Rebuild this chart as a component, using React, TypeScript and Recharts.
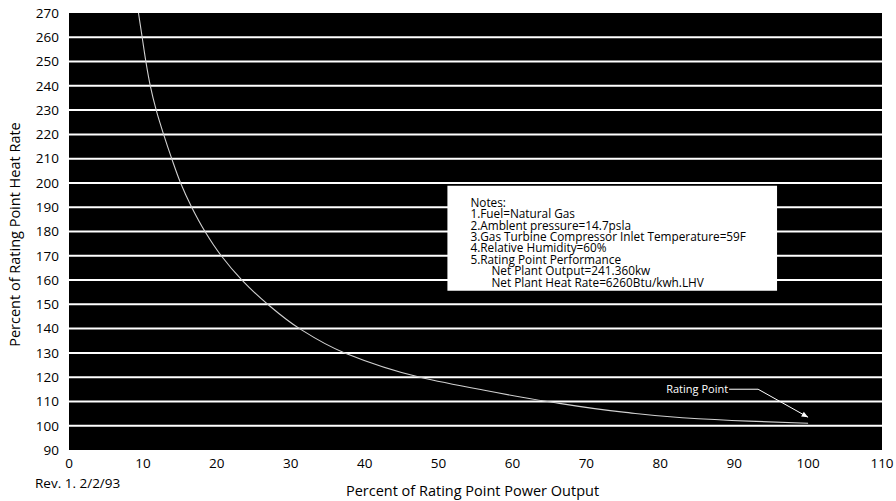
import React from "react";
import {
  LineChart,
  Line,
  XAxis,
  YAxis,
  CartesianGrid,
  ReferenceArea,
  ReferenceDot,
} from "recharts";

const powerOutput = [9.4, 9.9, 10.4, 11.0, 11.8, 12.8, 13.9, 15.1, 16.6, 18.4, 20.6, 23.4, 26.9, 31.2, 37.3, 47.5, 55.5, 64.7, 75, 83, 92, 100];
const heatRate = [270, 260, 250, 240, 230, 220, 210, 200, 190, 180, 170, 160, 150, 140, 130, 120, 115, 110, 105.6, 103.3, 101.9, 101];

const xTicks = [0, 10, 20, 30, 40, 50, 60, 70, 80, 90, 100, 110];
const yTicks = [90, 100, 110, 120, 130, 140, 150, 160, 170, 180, 190, 200, 210, 220, 230, 240, 250, 260, 270];
const gridValues = [100, 110, 120, 130, 140, 150, 160, 170, 180, 190, 200, 210, 220, 230, 240, 250, 260];

const notesLines = [
  "Notes:",
  "1.Fuel=Natural Gas",
  "2.Amblent pressure=14.7psla",
  "3.Gas Turbine Compressor Inlet Temperature=59F",
  "4.Relative Humidity=60%",
  "5.Rating Point Performance",
  "Net Plant Output=241.360kw",
  "Net Plant Heat Rate=6260Btu/kwh.LHV",
];
const notesIndent = [false, false, false, false, false, false, true, true];
const notesBox = { x1: 51.2, x2: 95.8, y1: 155.6, y2: 198.8 };
const ratingPoint = { x: 100, y: 103.5, label: "Rating Point" };

const xTitle = "Percent of Rating Point Power Output";
const yTitle = "Percent of Rating Point Heat Rate";
const revision = "Rev. 1. 2/2/93";

const FONT = "'Open Sans', Lato, sans-serif";

const data = powerOutput.map((x, i) => ({ x, y: heatRate[i] }));

const NotesLabel = (props: any) => {
  const vb = props.viewBox || {};
  const x0 = vb.x + 23;
  const y0 = vb.y + 21;
  return (
    <g>
      {notesLines.map((t, i) => (
        <text
          key={i}
          x={x0 + (notesIndent[i] ? 21 : 0)}
          y={y0 + i * 11.4}
          fontSize={11.8}
          fontFamily={FONT}
          fill="#000"
        >
          {t}
        </text>
      ))}
    </g>
  );
};

const RatingShape = (props: any) => {
  const { cx, cy } = props;
  const ly = cy - 28;
  const ang = Math.atan2(cy - ly, 50);
  const ah = 7;
  const a1x = cx - ah * Math.cos(ang - 0.4);
  const a1y = cy - ah * Math.sin(ang - 0.4);
  const a2x = cx - ah * Math.cos(ang + 0.4);
  const a2y = cy - ah * Math.sin(ang + 0.4);
  return (
    <g>
      <text
        x={cx - 80}
        y={ly + 4}
        textAnchor="end"
        fontSize={11}
        fontFamily={FONT}
        fill="#fff"
      >
        {ratingPoint.label}
      </text>
      <polyline
        points={`${cx - 79},${ly} ${cx - 50},${ly} ${cx},${cy}`}
        fill="none"
        stroke="#fff"
        strokeWidth={1}
      />
      <polygon points={`${cx},${cy} ${a1x},${a1y} ${a2x},${a2y}`} fill="#fff" />
    </g>
  );
};

const XTitle = (props: any) => {
  const vb = props.viewBox || {};
  return (
    <g>
      <text
        x={vb.x + vb.width / 2 - 3}
        y={vb.y + 46}
        textAnchor="middle"
        fontSize={14.5}
        fontFamily={FONT}
        fill="#000"
      >
        {xTitle}
      </text>
      <text x={35} y={vb.y + 38} fontSize={13.5} fontFamily={FONT} fill="#000">
        {revision}
      </text>
    </g>
  );
};

const YTitle = (props: any) => {
  const vb = props.viewBox || {};
  const cx = 14;
  const cy = vb.y + vb.height / 2 + 3;
  return (
    <text
      x={cx}
      y={cy}
      transform={`rotate(-90, ${cx}, ${cy})`}
      textAnchor="middle"
      dominantBaseline="central"
      fontSize={14.5}
      fontFamily={FONT}
      fill="#000"
    >
      {yTitle}
    </text>
  );
};

export default function App() {
  return (
    <div style={{ width: 896, height: 501, background: "#fff" }}>
      <style>{"body{margin:0;}"}</style>
      <LineChart
        width={896}
        height={501}
        data={data}
        margin={{ top: 13, right: 14, left: 0, bottom: 0 }}
      >
        <CartesianGrid
          horizontal={true}
          vertical={false}
          horizontalValues={gridValues}
          stroke="#fff"
          strokeWidth={2}
          fill="#000"
          fillOpacity={1}
        />
        <XAxis
          type="number"
          dataKey="x"
          domain={[0, 110]}
          ticks={xTicks}
          interval={0}
          axisLine={false}
          tickLine={false}
          height={51}
          tick={{ fontSize: 13.5, fontFamily: FONT, fill: "#000" }}
          label={{ content: XTitle } as any}
        />
        <YAxis
          type="number"
          dataKey="y"
          domain={[90, 270]}
          ticks={yTicks}
          interval={0}
          axisLine={false}
          tickLine={false}
          width={69}
          tickMargin={4}
          allowDataOverflow
          tick={{ fontSize: 13.5, fontFamily: FONT, fill: "#000" }}
          label={{ content: YTitle } as any}
        />
        <ReferenceArea
          x1={notesBox.x1}
          x2={notesBox.x2}
          y1={notesBox.y1}
          y2={notesBox.y2}
          fill="#fff"
          fillOpacity={1}
          stroke="none"
          label={{ content: NotesLabel } as any}
        />
        <Line
          type="monotoneY"
          dataKey="y"
          stroke="#d0d0d0"
          strokeWidth={1.1}
          dot={false}
          isAnimationActive={false}
        />
        <ReferenceDot
          x={ratingPoint.x}
          y={ratingPoint.y}
          r={0}
          shape={RatingShape}
        />
      </LineChart>
    </div>
  );
}
